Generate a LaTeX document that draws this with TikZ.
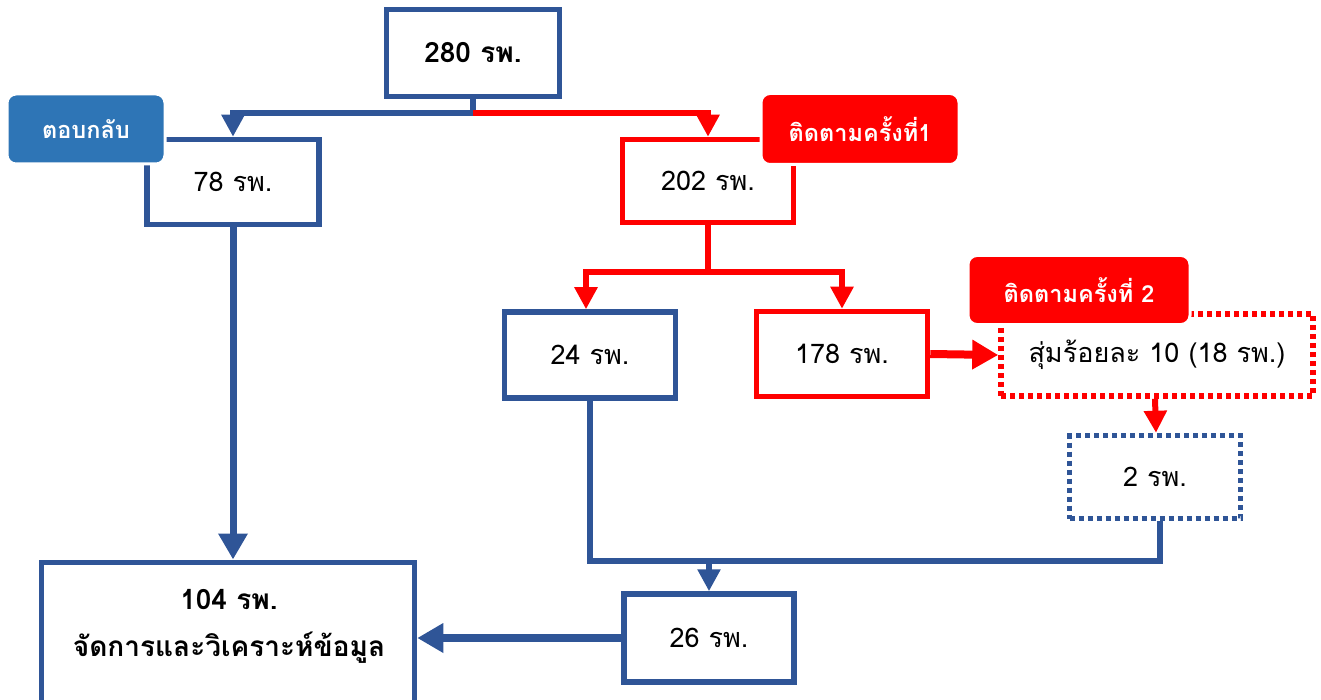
\documentclass[tikz,border=0pt]{standalone}
\usepackage{fontspec}
\newfontfamily\thaifont[Script=Thai]{Loma}
\usetikzlibrary{arrows.meta}
\definecolor{boxblue}{HTML}{2F5597}
\definecolor{lblblue}{HTML}{2E75B6}
\definecolor{bred}{HTML}{FF0000}
\begin{document}
\begin{tikzpicture}[x=1pt,y=-1pt,
  every node/.style={font=\thaifont\fontsize{27}{32}\selectfont, inner sep=0pt, align=center},
  boldtext/.style={font=\thaifont\bfseries\fontsize{28}{32}\selectfont},
  bbox/.style={draw=boxblue, line width=5.5pt, fill=white},
  rbox/.style={draw=bred, line width=5.5pt, fill=white},
  dotbox/.style={line width=5.5pt, fill=white, dash pattern=on 5pt off 4pt},
  lbl/.style={rounded corners=9pt, draw=white, line width=3pt, text=white,
    font=\thaifont\bfseries\fontsize{23.5}{28}\selectfont},
  tip/.style={-{Triangle[length=22pt,width=22pt]}},
  bigtip/.style={-{Triangle[length=26pt,width=28pt]}},
  bconn/.style={draw=boxblue, line width=6pt},
  rconn/.style={draw=bred, line width=6pt}]
\useasboundingbox (0,0) rectangle (1321,700);
% boxes
\node[bbox, boldtext, minimum width=173pt, minimum height=87pt] (n280) at (473,53) {280 รพ.};
\node[bbox, minimum width=172pt, minimum height=85pt] (n78) at (233,182) {78 รพ.};
\node[rbox, minimum width=171pt, minimum height=83pt] (n202) at (708,181) {202 รพ.};
\node[bbox, minimum width=171pt, minimum height=86pt] (n24) at (590,355) {24 รพ.};
\node[rbox, minimum width=171pt, minimum height=85pt] (n178) at (842,354) {178 รพ.};
\node[dotbox, draw=bred, minimum width=312pt, minimum height=82pt] (n18) at (1157,355) {สุ่มร้อยละ 10 (18 รพ.)};
\node[dotbox, draw=boxblue, minimum width=171pt, minimum height=83pt] (n2) at (1155,477) {2 รพ.};
\node[bbox, minimum width=170pt, minimum height=88pt] (n26) at (709,638) {26 รพ.};
\node[bbox, minimum width=373pt, minimum height=153pt, anchor=north] (n104) at (228,559.5) {};
\node[boldtext] (t104a) at (229,600) {104 รพ.};
\node[boldtext] (t104b) at (229,648) {จัดการและวิเคราะห์ข้อมูล};
% labels
\node[lbl, fill=lblblue, minimum width=158pt, minimum height=70pt] (l1) at (86,129) {ตอบกลับ};
\node[lbl, fill=bred, minimum width=198pt, minimum height=71pt] (l2) at (860,129) {ติดตามครั้งที่1};
\node[lbl, fill=bred, minimum width=222pt, minimum height=69pt] (l3) at (1079,290) {ติดตามครั้งที่ 2};
% connectors
\coordinate (s1) at (473,113);
\coordinate (s2) at (708,272);
\coordinate (s3) at (1160,561);
\draw[bconn] (n280.south) -- (s1);
\draw[bconn, tip] (s1) -| (n78.north);
\draw[rconn, tip] (s1) -| (n202.north);
\draw[rconn] (n202.south) -- (s2);
\draw[rconn, tip] (s2) -| ([xshift=-4pt]n24.north);
\draw[rconn, tip] (s2) -| (n178.north);
\draw[rconn, line width=8pt, bigtip] (n178.east) -- (n18.west);
\draw[rconn, tip] ([xshift=-2pt]n18.south) -- ([xshift=1pt]n2.north);
\draw[bconn] ([xshift=5pt]n2.south) -- (s3) -- (n24.south |- s3) -- (n24.south);
\draw[bconn, tip] (n26.north |- s3) -- (n26.north);
\draw[bconn, line width=8pt, bigtip] (n26.west) -- (n104.east |- n26.west);
\draw[bconn, line width=7pt, bigtip] (n78.south) -- (n78.south |- n104.north);
\end{tikzpicture}
\end{document}
